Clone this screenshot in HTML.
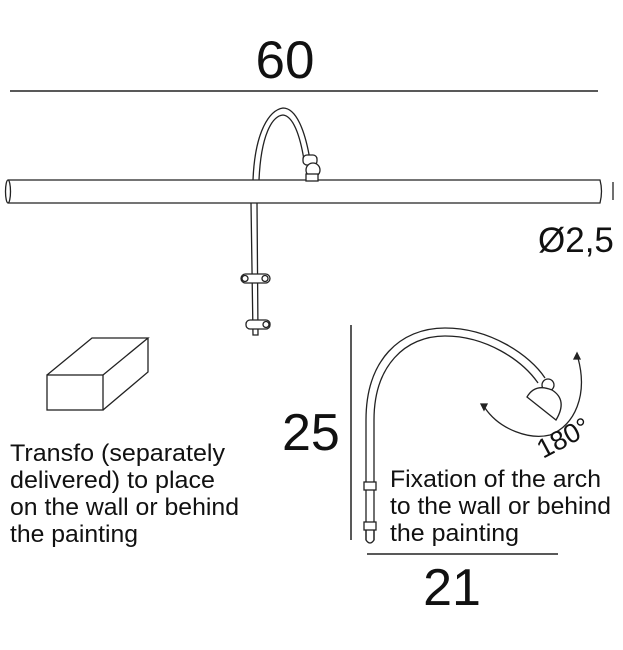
<!DOCTYPE html>
<html><head><meta charset="utf-8"><style>
html,body{margin:0;padding:0;background:#fff;}
svg{display:block;}
text{font-family:"Liberation Sans",Arial,sans-serif;fill:#111;}
</style></head><body>
<svg width="623" height="650" viewBox="0 0 623 650" xmlns="http://www.w3.org/2000/svg">
<g fill="none" stroke="#222" stroke-width="1.3">
<line x1="10" y1="91" x2="598" y2="91" stroke-width="1.5"/>
<path d="M8 180 L600 180 Q603 191 600 203 L8 203"/>
<ellipse cx="8" cy="191.5" rx="2.5" ry="11.5"/>
<line x1="613" y1="182" x2="613" y2="200"/>
<path d="M253 180 C255 130 270 110 283 108 C296 108 305 130 310 160"/>
<path d="M259 180 C261 135 272 116 283 115 C293 116 300 135 304 160"/>
<rect x="303" y="155" width="14" height="10" rx="4" fill="#fff"/>
<circle cx="313" cy="170" r="7" fill="#fff"/>
<rect x="306" y="174" width="12" height="7" fill="#fff"/>
<path d="M251 203 L253 335 L258 335 L257 203"/>
<rect x="241" y="274" width="29" height="9" rx="4.5" fill="#fff"/>
<circle cx="245" cy="278.5" r="3"/><circle cx="265" cy="278.5" r="3"/>
<rect x="246" y="320" width="24" height="9" rx="4" fill="#fff"/>
<circle cx="266" cy="324.5" r="3"/>
<rect x="47" y="375" width="56" height="35"/>
<path d="M47 375 L92 338 L148 338 L103 375 M148 338 L148 372 L103 410"/>
<line x1="351" y1="325" x2="351" y2="540" stroke-width="1.5"/>
<line x1="367" y1="554" x2="558" y2="554" stroke-width="1.5"/>
<path d="M366 540 L366 420 C366 360 400 328 445 328 C490 328 530 355 545 378"/>
<path d="M374 540 L374 420 C374 366 405 336 445 336 C486 336 522 360 538 383"/>
<rect x="364" y="482" width="12" height="8" fill="#fff"/>
<rect x="364" y="522" width="12" height="8" fill="#fff"/>
<path d="M366 530 L366 540 Q370 546 374 540 L374 530"/>
<circle cx="548" cy="385" r="6" fill="#fff"/>
<path d="M527 397 L556 420 Q568 400 552 390 Q535 383 527 397 Z" fill="#fff"/>
<path d="M485 408 C500 430 530 440 550 435 C575 425 588 395 578 358"/>
<path d="M481 404 l6 0 l-3 6 z" fill="#222"/>
<path d="M577 353 l-3 6 l6 0 z" fill="#222"/>
</g>
<text x="285" y="78" font-size="53" text-anchor="middle">60</text>
<text x="538" y="252" font-size="35">Ø2,5</text>
<text x="282" y="450" font-size="52">25</text>
<text x="452" y="605" font-size="52" text-anchor="middle">21</text>
<text transform="translate(543,459) rotate(-28)" font-size="27">180°</text>
<g font-size="24">
<text x="10" y="461" textLength="215" lengthAdjust="spacingAndGlyphs">Transfo (separately</text>
<text x="10" y="488" textLength="205" lengthAdjust="spacingAndGlyphs">delivered) to place</text>
<text x="10" y="515" textLength="229" lengthAdjust="spacingAndGlyphs">on the wall or behind</text>
<text x="10" y="542" textLength="128" lengthAdjust="spacingAndGlyphs">the painting</text>
<text x="390" y="487" textLength="211" lengthAdjust="spacingAndGlyphs">Fixation of the arch</text>
<text x="390" y="514" textLength="221" lengthAdjust="spacingAndGlyphs">to the wall or behind</text>
<text x="390" y="541" textLength="129" lengthAdjust="spacingAndGlyphs">the painting</text>
</g>
</svg>
</body></html>
